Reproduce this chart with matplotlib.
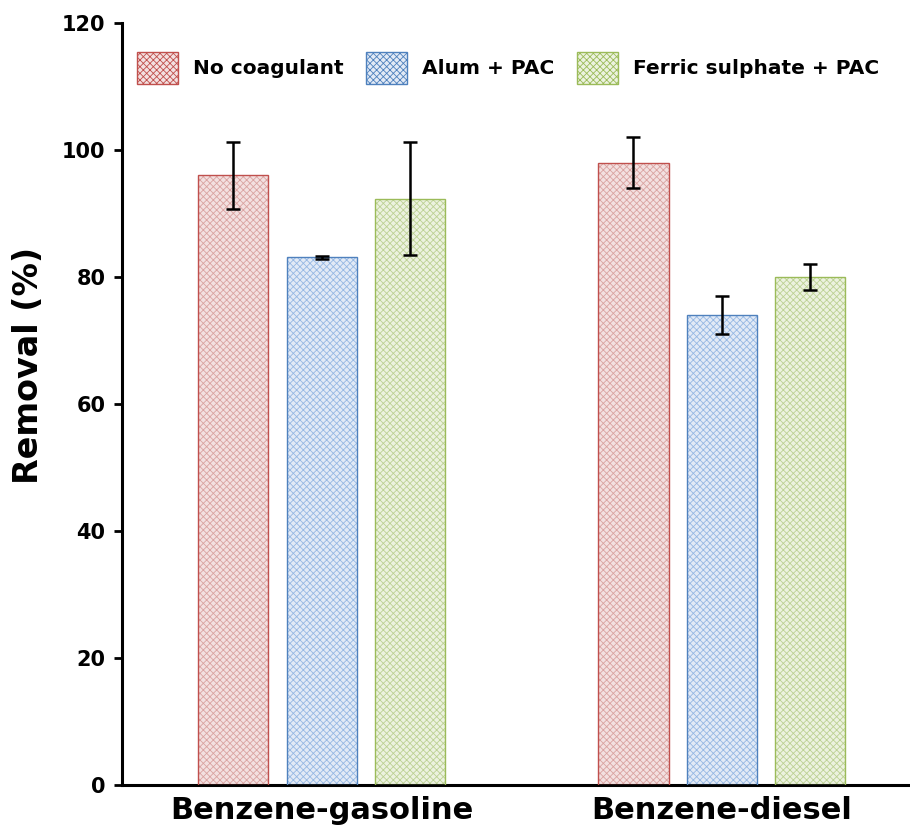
import matplotlib
matplotlib.use("Agg")
import matplotlib.pyplot as plt
import numpy as np

categories = ["Benzene-gasoline", "Benzene-diesel"]
series_names = ["No coagulant", "Alum + PAC", "Ferric sulphate + PAC"]
no_coag = [96.0, 98.0]
no_coag_err = [5.3, 4.0]
alum_pac = [83.1, 74.0]
alum_pac_err = [0.2, 3.0]
ferric_pac = [92.3, 80.0]
ferric_pac_err = [8.9, 2.0]
yticks = [0, 20, 40, 60, 80, 100, 120]

values = [no_coag, alum_pac, ferric_pac]
errors = [no_coag_err, alum_pac_err, ferric_pac_err]
edge_colors = ["#c0504d", "#4f81bd", "#9bbb59"]
face_colors = ["#f3e0e0", "#e2eaf6", "#ecf2df"]
hatch_colors = ["#d9a3a1", "#96b8e3", "#bcd194"]

plt.rcParams["font.family"] = ["DejaVu Sans"]
plt.rcParams["hatch.linewidth"] = 0.6

fig = plt.figure(figsize=(9.1, 8.31), dpi=100)
ax = fig.add_axes([0.134, 0.0554, 0.866, 0.9169])

x = np.arange(len(categories))
width = 0.175
offsets = [-0.2212, 0.0, 0.2212]
handles = []
for i in range(3):
    ax.bar(x + offsets[i], values[i], width, color=face_colors[i],
           edgecolor=hatch_colors[i], hatch="xxxxx", linewidth=0, zorder=2)
    ax.bar(x + offsets[i], values[i], width, fill=False,
           edgecolor=edge_colors[i], linewidth=1.0, zorder=3)
    ax.errorbar(x + offsets[i], values[i], yerr=errors[i], fmt="none",
                ecolor="black", elinewidth=1.8, capsize=5, capthick=1.8, zorder=4)
    handles.append(plt.Rectangle((0, 0), 1, 1, facecolor=face_colors[i],
                                 edgecolor=edge_colors[i], hatch="xxxxx", linewidth=1.0))

ax.set_xlim(-0.5, 1.47)
ax.set_ylim(0, 120)
ax.set_yticks(yticks)
ax.set_yticklabels([str(t) for t in yticks], fontsize=15, fontweight="bold")
ax.set_xticks(x)
ax.set_xticklabels(categories, fontsize=22, fontweight="bold")
ax.tick_params(axis="x", length=0, pad=8)
ax.tick_params(axis="y", direction="out", length=6, width=2, pad=6)
ax.spines["top"].set_visible(False)
ax.spines["right"].set_visible(False)
ax.spines["left"].set_linewidth(2.2)
ax.spines["bottom"].set_linewidth(2.2)
ax.set_ylabel("Removal (%)", fontsize=24, fontweight="bold", va="center", ha="center")
ax.yaxis.set_label_coords(-0.119, 0.55)

leg = ax.legend(handles, series_names, ncol=3, loc="upper left",
                bbox_to_anchor=(0.019, 0.962), frameon=False,
                prop={"size": 14.5, "weight": "bold"},
                handlelength=2.05, handleheight=2.05, handletextpad=0.75,
                columnspacing=1.1, borderaxespad=0, borderpad=0)

fig.savefig("out.png", dpi=100)
